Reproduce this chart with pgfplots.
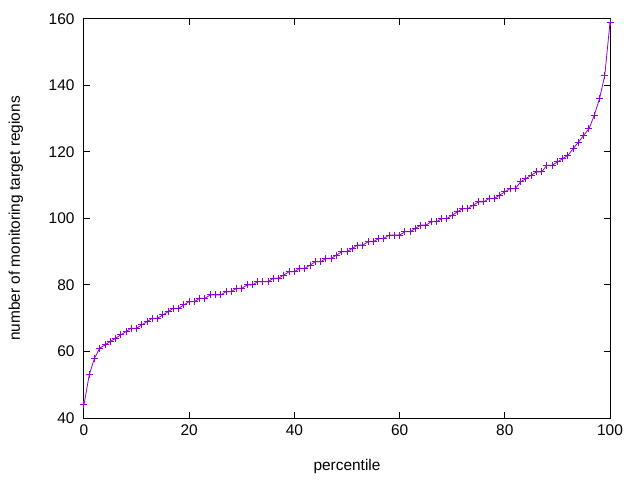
\documentclass[border=0pt]{standalone}
\usepackage{pgfplots}
\pgfplotsset{compat=1.18}
\usepackage{fontspec}
\setmainfont{Liberation Sans}
\definecolor{gpviolet}{RGB}{148,0,211}
\begin{document}
\begin{tikzpicture}
\useasboundingbox (-84bp,-62bp) rectangle (556bp,418bp);
\begin{axis}[
  at={(0,0)}, anchor=south west,
  scale only axis, width=526bp, height=399bp,
  xmin=0, xmax=100, ymin=40, ymax=160,
  xtick={0,20,...,100}, ytick={40,60,...,160},
  tick align=inside, major tick length=6bp,
  xtick pos=both, ytick pos=both,
  axis line style={line width=1bp},
  tick style={line width=1bp, black},
  font=\fontsize{15.5}{18}\selectfont,
  /pgf/number format/assume math mode=true,
  xticklabel style={yshift=-3bp},
  yticklabel style={xshift=-6bp},
  xlabel={percentile},
  ylabel={number of monitoring target regions},
  xlabel style={at={(axis description cs:0.5,0)}, anchor=base, yshift=-52bp},
  ylabel style={at={(axis description cs:0,0.5)}, anchor=base, xshift=0bp, yshift=64bp},
]
\addplot[color=gpviolet, line width=0.8bp, mark=+, mark size=3.5bp, mark options={line width=1bp}] coordinates {
(0,44) (1,53) (2,58) (3,61) (4,62) (5,63) (6,64) (7,65) (8,66) (9,67)
(10,67) (11,68) (12,69) (13,70) (14,70) (15,71) (16,72) (17,73) (18,73) (19,74)
(20,75) (21,75) (22,76) (23,76) (24,77) (25,77) (26,77) (27,78) (28,78) (29,79)
(30,79) (31,80) (32,80) (33,81) (34,81) (35,81) (36,82) (37,82) (38,83) (39,84)
(40,84) (41,85) (42,85) (43,86) (44,87) (45,87) (46,88) (47,88) (48,89) (49,90)
(50,90) (51,91) (52,92) (53,92) (54,93) (55,93) (56,94) (57,94) (58,95) (59,95)
(60,95) (61,96) (62,96) (63,97) (64,98) (65,98) (66,99) (67,99) (68,100) (69,100)
(70,101) (71,102) (72,103) (73,103) (74,104) (75,105) (76,105) (77,106) (78,106) (79,107)
(80,108) (81,109) (82,109) (83,111) (84,112) (85,113) (86,114) (87,114) (88,116) (89,116)
(90,117) (91,118) (92,119) (93,121) (94,123) (95,125) (96,127) (97,131) (98,136) (99,143)
(100,159)
};
\end{axis}
\end{tikzpicture}
\end{document}
